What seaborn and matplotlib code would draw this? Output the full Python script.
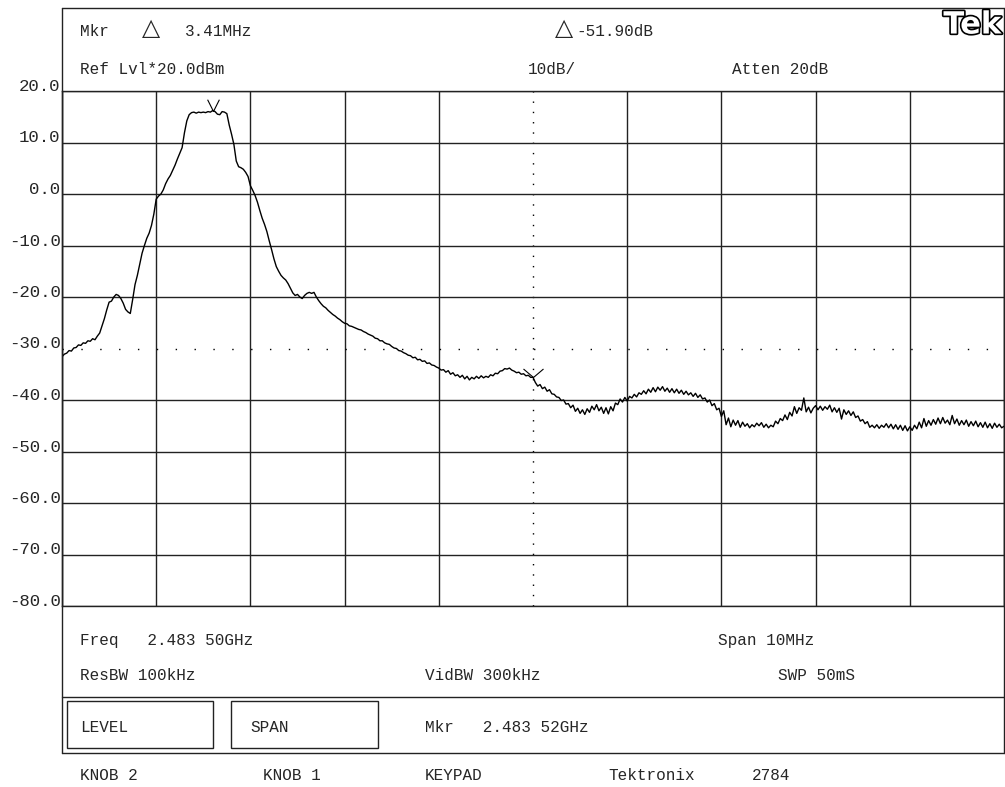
import numpy as np
import pandas as pd
import matplotlib
matplotlib.use("Agg")
import matplotlib.pyplot as plt
import matplotlib.patheffects as pe
from matplotlib.lines import Line2D
from matplotlib.patches import Rectangle
import seaborn as sns

# trace, one value every 0.025 MHz from -5 MHz to +5 MHz (dBm)
level_dbm = [
    -31.6, -31.1, -30.9, -30.4, -30.5, -29.9, -29.8, -29.3, -29.4, -28.9, -29.0, -28.5, -28.6, -28.1, -28.3, -27.6, -27.0, -25.6, -24.2, -22.5,
    -21.0, -20.8, -20.0, -19.5, -19.7, -20.3, -21.2, -22.4, -22.9, -23.2, -20.5, -17.6, -15.8, -13.6, -11.5, -10.0, -8.6, -7.6, -6.1, -3.9,
    -1.0, -0.4, 0.0, 0.8, 2.0, 2.9, 3.6, 4.6, 5.6, 6.8, 7.9, 9.0, 11.9, 14.2, 15.4, 15.8, 15.9, 15.7, 15.9, 15.8,
    15.9, 15.8, 16.0, 15.9, 16.2, 16.0, 15.5, 15.4, 16.0, 15.9, 15.6, 13.4, 11.6, 9.6, 6.4, 5.3, 5.1, 4.8, 4.2, 3.4,
    1.6, 0.7, -0.3, -1.6, -3.2, -4.7, -5.9, -7.3, -9.1, -10.8, -12.6, -14.1, -15.0, -15.8, -16.3, -16.7, -17.4, -18.3, -19.2, -19.7,
    -19.5, -20.0, -20.3, -19.7, -19.3, -19.1, -19.3, -19.1, -20.0, -20.7, -21.3, -21.8, -22.1, -22.6, -23.0, -23.4, -23.7, -24.1, -24.4, -24.8,
    -25.1, -25.2, -25.6, -25.7, -25.9, -26.1, -26.3, -26.4, -26.7, -26.9, -27.2, -27.4, -27.6, -28.0, -28.1, -28.5, -28.5, -28.9, -29.1, -29.2,
    -29.6, -29.9, -30.0, -30.4, -30.5, -30.8, -31.0, -31.3, -31.4, -31.8, -31.7, -32.2, -32.1, -32.5, -32.4, -32.9, -32.8, -33.2, -33.3, -33.6,
    -33.8, -34.2, -34.1, -34.6, -34.3, -35.0, -34.7, -35.3, -35.1, -35.6, -35.2, -35.9, -35.4, -36.1, -35.6, -35.9, -35.4, -35.8, -35.3, -35.7,
    -35.4, -35.6, -35.1, -35.3, -34.8, -34.9, -34.4, -34.3, -33.9, -34.0, -33.8, -34.2, -34.4, -34.7, -34.6, -35.0, -34.9, -35.3, -35.2, -35.6,
    -35.6, -36.6, -37.3, -37.0, -37.8, -37.5, -38.3, -38.0, -38.8, -38.9, -39.4, -39.5, -40.1, -40.0, -40.8, -40.7, -41.5, -41.0, -42.2, -41.6,
    -42.6, -41.9, -42.8, -41.7, -42.4, -41.2, -41.9, -40.9, -42.1, -41.4, -42.6, -41.5, -42.7, -41.3, -42.1, -40.6, -40.9, -39.8, -40.4, -39.5,
    -40.2, -39.3, -39.6, -38.9, -39.4, -38.6, -38.9, -38.2, -38.8, -37.9, -38.5, -37.6, -38.4, -37.5, -38.1, -37.4, -38.3, -37.7, -38.5, -37.8,
    -38.6, -37.9, -38.7, -38.1, -38.9, -38.3, -39.0, -38.6, -39.3, -38.7, -39.5, -39.0, -39.8, -39.6, -40.4, -40.0, -41.1, -40.7, -41.9, -41.6,
    -43.2, -42.1, -44.8, -43.5, -45.2, -43.9, -44.9, -44.0, -45.3, -44.3, -45.1, -44.6, -45.4, -44.8, -45.2, -44.5, -45.0, -44.4, -45.3, -44.7,
    -45.4, -44.9, -45.2, -44.1, -44.6, -43.6, -44.0, -42.9, -43.8, -42.4, -43.1, -41.3, -42.6, -41.5, -42.0, -39.6, -42.3, -41.4, -42.5, -41.6,
    -41.1, -41.9, -41.2, -42.0, -41.3, -41.8, -41.0, -42.3, -41.5, -42.4, -41.6, -43.7, -41.9, -42.8, -42.1, -43.0, -42.3, -43.4, -43.1, -44.1,
    -43.8, -44.6, -44.2, -45.3, -44.9, -45.4, -44.8, -45.5, -44.9, -45.3, -44.6, -45.4, -44.7, -45.6, -44.8, -45.7, -44.9, -45.9, -45.0, -46.0,
    -45.2, -45.9, -44.9, -45.6, -44.3, -45.4, -43.6, -45.1, -44.0, -44.9, -43.8, -44.7, -43.5, -44.6, -43.4, -44.5, -43.9, -44.8, -43.0, -44.6,
    -43.7, -44.9, -44.0, -44.8, -43.9, -45.1, -44.2, -45.0, -44.1, -45.2, -44.4, -45.3, -44.3, -45.4, -44.6, -45.5, -44.5, -45.3, -44.7, -45.4,
    -45.1,
]
span_mhz = (-5.0, 5.0)
marker_idx = [64, 200]          # main marker, delta marker (sweep index)
y_ticks = [20, 10, 0, -10, -20, -30, -40, -50, -60, -70, -80]
y_labels = ["20.0", "10.0", "0.0", "-10.0", "-20.0", "-30.0", "-40.0", "-50.0", "-60.0", "-70.0", "-80.0"]
x_div = [-5, -4, -3, -2, -1, 0, 1, 2, 3, 4, 5]

df = pd.DataFrame({
    "offset": np.linspace(span_mhz[0], span_mhz[1], len(level_dbm)),
    "level": level_dbm,
})

sns.set_style("white")
plt.rcParams["font.family"] = ["Liberation Mono", "DejaVu Sans Mono"]

W, H = 1005, 787
fig = plt.figure(figsize=(W / 100, H / 100), dpi=100)


def fx(x):
    return x / W


def fy(y):
    return 1 - y / H


ax = fig.add_axes([fx(62), fy(606), (1004 - 62) / W, (606 - 91) / H])
ax.set_xlim(*span_mhz)
ax.set_ylim(-80, 20)

# graticule
for x in x_div:
    if x == 0:
        ax.axvline(x, color="black", lw=1.0, ls=(0, (1.0, 6.4)), zorder=1)
    else:
        ax.axvline(x, color="#222222", lw=1.0, zorder=1)
for y in y_ticks:
    if y == -30:
        ax.axhline(y, color="black", lw=1.0, ls=(0, (1.0, 12.58)), zorder=1)
    else:
        ax.axhline(y, color="#222222", lw=1.0, zorder=1)

sns.lineplot(data=df, x="offset", y="level", ax=ax, color="black", lw=1.0, zorder=3)

# markers
mk = df.iloc[marker_idx]
ax.plot(mk["offset"].iloc[0], mk["level"].iloc[0], marker=[(-0.5, 1), (0, 0), (0.5, 1)],
        ms=17, mfc="none", mec="black", mew=0.8, zorder=4)
ax.plot(mk["offset"].iloc[1], mk["level"].iloc[1], marker=[(-1, 0.85), (0, 0), (1, 0.85)],
        ms=14.4, mfc="none", mec="black", mew=0.8, zorder=4)

ax.set_xticks([])
ax.set_yticks(y_ticks, y_labels)
ax.tick_params(axis="y", length=0, pad=1, labelsize=12.5)
for t in ax.get_yticklabels():
    t.set_verticalalignment("baseline")
ax.set_xlabel("")
ax.set_ylabel("")
for s in ax.spines.values():
    s.set_color("#222222")
    s.set_linewidth(1.0)


def line(x0, y0, x1, y1):
    fig.add_artist(Line2D([fx(x0), fx(x1)], [fy(y0), fy(y1)], color="#222222", lw=1.0))


# outer frame
line(62, 8, 1004, 8)
line(62, 8, 62, 753)
line(1004, 8, 1004, 753)
line(62, 697, 1004, 697)
line(62, 753, 1004, 753)
for x0, x1 in [(67, 213), (231, 378)]:
    fig.add_artist(Rectangle((fx(x0), fy(748)), (x1 - x0) / W, (748 - 701) / H,
                             fill=False, ec="#222222", lw=1.0, transform=fig.transFigure))

fs = 11.5


def txt(x, y, s, **kw):
    fig.text(fx(x), fy(y), s, ha="left", va="center", fontsize=fs, **kw)


# header
txt(80, 32, "Mkr")
fig.text(fx(150.5), fy(28), "△", ha="center", va="center", fontsize=17, family="DejaVu Sans")
txt(185, 32, "3.41MHz")
fig.text(fx(563.5), fy(28), "△", ha="center", va="center", fontsize=17, family="DejaVu Sans")
txt(576, 32, "-51.90dB")
fig.text(fx(1001), fy(25), "Tek", ha="right", va="center", fontsize=22, fontweight="bold",
         family="DejaVu Sans", color="white",
         path_effects=[pe.withStroke(linewidth=2.4, foreground="black")])
txt(80, 69, "Ref Lvl*20.0dBm")
txt(528, 69, "10dB/")
txt(732, 69, "Atten 20dB")

# footer
txt(80, 641, "Freq   2.483 50GHz")
txt(718, 641, "Span 10MHz")
txt(80, 676, "ResBW 100kHz")
txt(425, 676, "VidBW 300kHz")
txt(778, 676, "SWP 50mS")
txt(80, 727, "LEVEL")
txt(250, 727, "SPAN")
txt(425, 727, "Mkr   2.483 52GHz")
txt(80, 775, "KNOB 2")
txt(263, 775, "KNOB 1")
txt(425, 775, "KEYPAD")
txt(608, 775, "Tektronix")
txt(752, 775, "2784")

fig.savefig("out.png", dpi=100, facecolor="white")
plt.close(fig)
